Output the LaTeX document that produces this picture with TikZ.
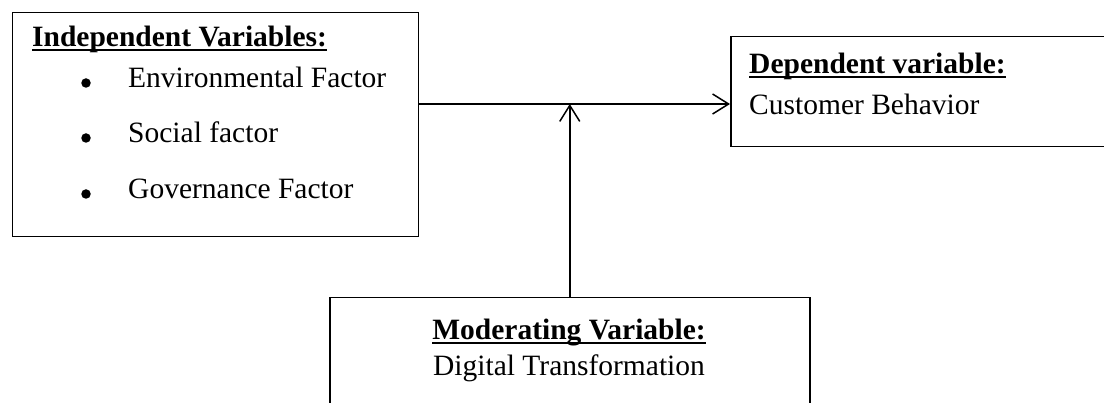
\documentclass[tikz,border=0pt]{standalone}
\usepackage{fontspec}
\setmainfont{Liberation Serif}
\usetikzlibrary{arrows.meta}

% bold heading with a Word-style underline running through the descenders
\newcommand{\headul}[1]{\setbox0\hbox{\bfseries #1}\rlap{\rule[-4.5pt]{\wd0}{2.2pt}}\box0}

\begin{document}
\begin{tikzpicture}[x=1pt,y=-1pt,
  box/.style={draw, line width=1.5pt, inner sep=0pt, anchor=north west},
  txt/.style={inner sep=0pt, anchor=base west, font=\fontsize{29.5}{35}\selectfont},
  ctxt/.style={inner sep=0pt, anchor=base, font=\fontsize{29.5}{35}\selectfont},
  dot/.style={circle, fill, inner sep=0pt, minimum size=9.5pt},
  arr/.style={line width=1.5pt, -{Straight Barb[length=16pt,width=20pt]}}]
\useasboundingbox (0,0) rectangle (1104,403);
\clip (0,0) rectangle (1104,403);

% frames
\node[box, minimum width=406pt, minimum height=224pt] (ind) at (11.5,12) {};
\node[box, minimum width=420pt, minimum height=110pt] (dep) at (730,36) {};
\node[box, minimum width=480pt, minimum height=150pt] (mod) at (329,297) {};

% independent variables
\node[txt] (indh) at (32,47) {\headul{Independent Variables:}};
\node[dot] (b1) at (86,83) {};
\node[txt] (i1) at (128,88) {Environmental Factor};
\node[dot] (b2) at (86,138) {};
\node[txt] (i2) at (128,143) {Social factor};
\node[dot] (b3) at (86,194) {};
\node[txt] (i3) at (128,199) {Governance Factor};

% dependent variable
\node[txt] (deph) at (749,74) {\headul{Dependent variable:}};
\node[txt] (dep1) at (749,115) {Customer Behavior};

% moderating variable
\node[ctxt] (modh) at (569,340) {\headul{Moderating Variable:}};
\node[ctxt] (mod1) at (569,376) {Digital Transformation};

% connectors
\coordinate (j) at (569,104);
\draw[arr] (ind.east |- j) -- (dep.west |- j);
\draw[arr] (mod.north) -- (mod.north |- j);
\end{tikzpicture}
\end{document}
